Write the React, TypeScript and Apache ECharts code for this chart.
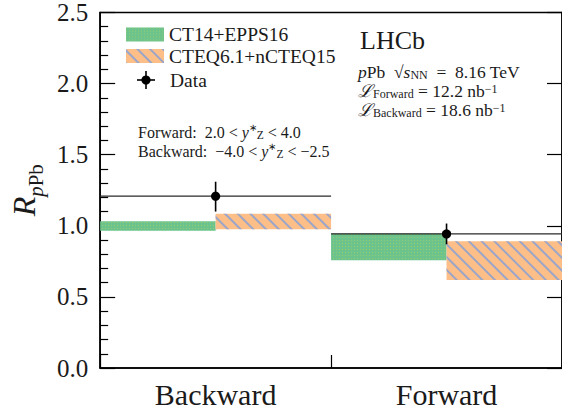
import React, { useEffect, useRef } from 'react';
import * as echarts from 'echarts';

const categories = ['Backward', 'Forward'];
const ct14Low = [0.965, 0.758];
const ct14High = [1.032, 0.945];
const cteqLow = [0.976, 0.618];
const cteqHigh = [1.084, 0.892];
const dataValue = [1.208, 0.943];
const dataErrLow = [1.1, 0.87];
const dataErrHigh = [1.31, 1.016];
const legendNames = ['CT14+EPPS16', 'CTEQ6.1+nCTEQ15'];

const SERIF = 'Liberation Serif';
const TXT = '#1a1a1a';

const greenStyle = {
  color: '#6cc38b',
  decal: {
    symbol: 'rect',
    symbolSize: 1,
    dashArrayX: [1, 2],
    dashArrayY: [1, 2],
    color: 'rgba(160,205,110,0.8)',
  },
};
const orangeStyle = {
  color: '#fdbf87',
  decal: {
    symbol: 'rect',
    symbolSize: 1,
    dashArrayX: [1, 0],
    dashArrayY: [1.5, 7],
    rotation: Math.PI / 4,
    color: '#9aa5c9',
  },
};

function richSet(size: number, sub: number, lh: number) {
  return {
    m: { fontFamily: SERIF, fontSize: size, lineHeight: lh, verticalAlign: 'middle', fill: TXT },
    i: { fontFamily: SERIF, fontSize: size, lineHeight: lh, verticalAlign: 'middle', fontStyle: 'italic', fill: TXT },
    s: { fontFamily: SERIF, fontSize: sub, lineHeight: 8, verticalAlign: 'bottom', fill: TXT },
    u: { fontFamily: SERIF, fontSize: sub, lineHeight: 8, verticalAlign: 'top', fill: TXT },
    a: { fontFamily: SERIF, fontSize: sub - 2, lineHeight: 8, verticalAlign: 'top', fill: TXT },
  };
}

export default function App() {
  const ref = useRef<HTMLDivElement>(null);
  useEffect(() => {
    if (!ref.current) return;
    const chart = echarts.init(ref.current, undefined, { renderer: 'svg' });
    const rLeft = richSet(16, 11.5, 18);
    const rRight = richSet(17.5, 12, 17);
    const option: any = {
      animation: false,
      textStyle: { fontFamily: SERIF },
      grid: {
        left: 92,
        right: -6,
        top: 12,
        bottom: 46,
        show: true,
        borderColor: '#000',
        borderWidth: 1.5,
        backgroundColor: 'transparent',
      },
      legend: {
        data: legendNames,
        orient: 'vertical',
        left: 126,
        top: 24.5,
        padding: 0,
        itemWidth: 38,
        itemHeight: 14,
        itemGap: 1.5,
        itemTextGap: 6,
        icon: 'rect',
        selectedMode: false,
        formatter: (name: string) => `{t|${name}}`,
        textStyle: {
          fontFamily: SERIF,
          fontSize: 19.5,
          color: TXT,
          lineHeight: 14,
          rich: { t: { fontFamily: SERIF, fontSize: 19.5, lineHeight: 14, color: TXT } },
        },
        itemStyle: { borderWidth: 0 },
      },
      xAxis: [
        {
          type: 'category',
          data: categories,
          axisLine: { show: true, lineStyle: { color: '#000', width: 1.5 } },
          axisTick: { show: true, inside: true, length: 13, lineStyle: { color: '#000', width: 1.2 } },
          axisLabel: {
            margin: 10,
            formatter: (v: string) => `{t|${v}}`,
            rich: { t: { fontFamily: SERIF, fontSize: 30, color: TXT, lineHeight: 32 } },
          },
          splitLine: { show: false },
        },
        {
          type: 'value',
          min: 0,
          max: 2,
          show: false,
        },
      ],
      yAxis: [
        {
          type: 'value',
          min: 0,
          max: 2.5,
          interval: 0.5,
          name: '{r|R}{p|p}{b|Pb}',
          nameLocation: 'middle',
          nameGap: 46,
          nameTextStyle: {
            rich: {
              r: { fontFamily: SERIF, fontSize: 32, fontStyle: 'italic', lineHeight: 38, verticalAlign: 'top', color: TXT },
              p: { fontFamily: SERIF, fontSize: 21, fontStyle: 'italic', lineHeight: 21, verticalAlign: 'bottom', color: TXT },
              b: { fontFamily: SERIF, fontSize: 21, lineHeight: 21, verticalAlign: 'bottom', color: TXT },
            },
          },
          axisLine: { show: true, lineStyle: { color: '#000', width: 1.5 } },
          axisTick: { show: true, inside: true, length: 15, lineStyle: { color: '#000', width: 1.2 } },
          minorTick: { show: true, splitNumber: 5, length: 8, lineStyle: { color: '#000', width: 1.2 } },
          axisLabel: {
            margin: 12,
            formatter: (v: number) => `{t|${v.toFixed(1)}}`,
            rich: { t: { fontFamily: SERIF, fontSize: 25, color: TXT, lineHeight: 26 } },
          },
          splitLine: { show: false },
        },
        {
          type: 'value',
          min: 0,
          max: 2.5,
          interval: 0.5,
          position: 'right',
          axisLine: { show: true, lineStyle: { color: '#000', width: 1.5 } },
          axisTick: { show: true, inside: true, length: 15, lineStyle: { color: '#000', width: 1.2 } },
          axisLabel: { show: false },
          splitLine: { show: false },
        },
      ],
      series: [
        {
          type: 'bar',
          name: '_g',
          stack: 'g',
          data: ct14Low,
          itemStyle: { color: 'rgba(0,0,0,0)' },
          silent: true,
          barGap: '0%',
          barCategoryGap: '0%',
        },
        {
          type: 'bar',
          name: legendNames[0],
          stack: 'g',
          data: ct14High.map((h, i) => +(h - ct14Low[i]).toFixed(4)),
          itemStyle: greenStyle,
          barGap: '0%',
          barCategoryGap: '0%',
        },
        {
          type: 'bar',
          name: '_o',
          stack: 'o',
          data: cteqLow,
          itemStyle: { color: 'rgba(0,0,0,0)' },
          silent: true,
          barGap: '0%',
          barCategoryGap: '0%',
        },
        {
          type: 'bar',
          name: legendNames[1],
          stack: 'o',
          data: cteqHigh.map((h, i) => +(h - cteqLow[i]).toFixed(4)),
          itemStyle: orangeStyle,
          barGap: '0%',
          barCategoryGap: '0%',
        },
        {
          type: 'custom',
          name: 'Data',
          xAxisIndex: 1,
          yAxisIndex: 0,
          z: 10,
          data: categories.map((c, i) => [i, i + 1, dataValue[i], dataErrLow[i], dataErrHigh[i]]),
          renderItem: (params: any, api: any) => {
            const x0 = api.value(0);
            const x1 = api.value(1);
            const v = api.value(2);
            const lo = api.value(3);
            const hi = api.value(4);
            const xc = (x0 + x1) / 2;
            const pL = api.coord([x0, v]);
            const pR = api.coord([x1, v]);
            const pc = api.coord([xc, v]);
            const pLo = api.coord([xc, lo]);
            const pHi = api.coord([xc, hi]);
            return {
              type: 'group',
              children: [
                { type: 'line', shape: { x1: pL[0], y1: pL[1], x2: pR[0], y2: pR[1] }, style: { stroke: '#2a2a2a', lineWidth: 1.3 } },
                { type: 'line', shape: { x1: pLo[0], y1: pLo[1], x2: pHi[0], y2: pHi[1] }, style: { stroke: '#000', lineWidth: 1.6 } },
                { type: 'circle', shape: { cx: pc[0], cy: pc[1], r: 4.6 }, style: { fill: '#000' } },
              ],
            };
          },
        },
      ],
      graphic: [
        // Data legend entry
        { type: 'line', shape: { x1: 137, y1: 80, x2: 155, y2: 80 }, style: { stroke: '#000', lineWidth: 1.6 } },
        { type: 'line', shape: { x1: 146, y1: 71, x2: 146, y2: 89 }, style: { stroke: '#000', lineWidth: 1.6 } },
        { type: 'circle', shape: { cx: 146, cy: 80, r: 4.6 }, style: { fill: '#000' } },
        { type: 'text', x: 170, y: 80, style: { text: 'Data', fontFamily: SERIF, fontSize: 19.5, fill: TXT, verticalAlign: 'middle' } },
        // left annotations
        {
          type: 'text', x: 138, y: 132,
          style: { text: '{m|Forward:  2.0 < }{i|y}{a|∗}{s|Z}{m| < 4.0}', rich: rLeft, verticalAlign: 'middle' },
        },
        {
          type: 'text', x: 138, y: 151,
          style: { text: '{m|Backward:  −4.0 < }{i|y}{a|∗}{s|Z}{m| < −2.5}', rich: rLeft, verticalAlign: 'middle' },
        },
        // right annotations
        { type: 'text', x: 360, y: 40, style: { text: 'LHCb', fontFamily: SERIF, fontSize: 26, fill: TXT, verticalAlign: 'middle' } },
        {
          type: 'text', x: 358, y: 72,
          style: { text: '{i|p}{m|Pb  √}{i|s}{s|NN}{m|  =  8.16 TeV}', rich: rRight, verticalAlign: 'middle' },
        },
        {
          type: 'text', x: 358, y: 91,
          style: { text: '{i|ℒ}{s|Forward}{m| = 12.2 nb}{u|−1}', rich: rRight, verticalAlign: 'middle' },
        },
        {
          type: 'text', x: 358, y: 110,
          style: { text: '{i|ℒ}{s|Backward}{m| = 18.6 nb}{u|−1}', rich: rRight, verticalAlign: 'middle' },
        },
      ],
    };
    chart.setOption(option);
    return () => chart.dispose();
  }, []);
  return <div ref={ref} style={{ position: 'absolute', left: 0, top: 0, width: 562, height: 414 }} />;
}
